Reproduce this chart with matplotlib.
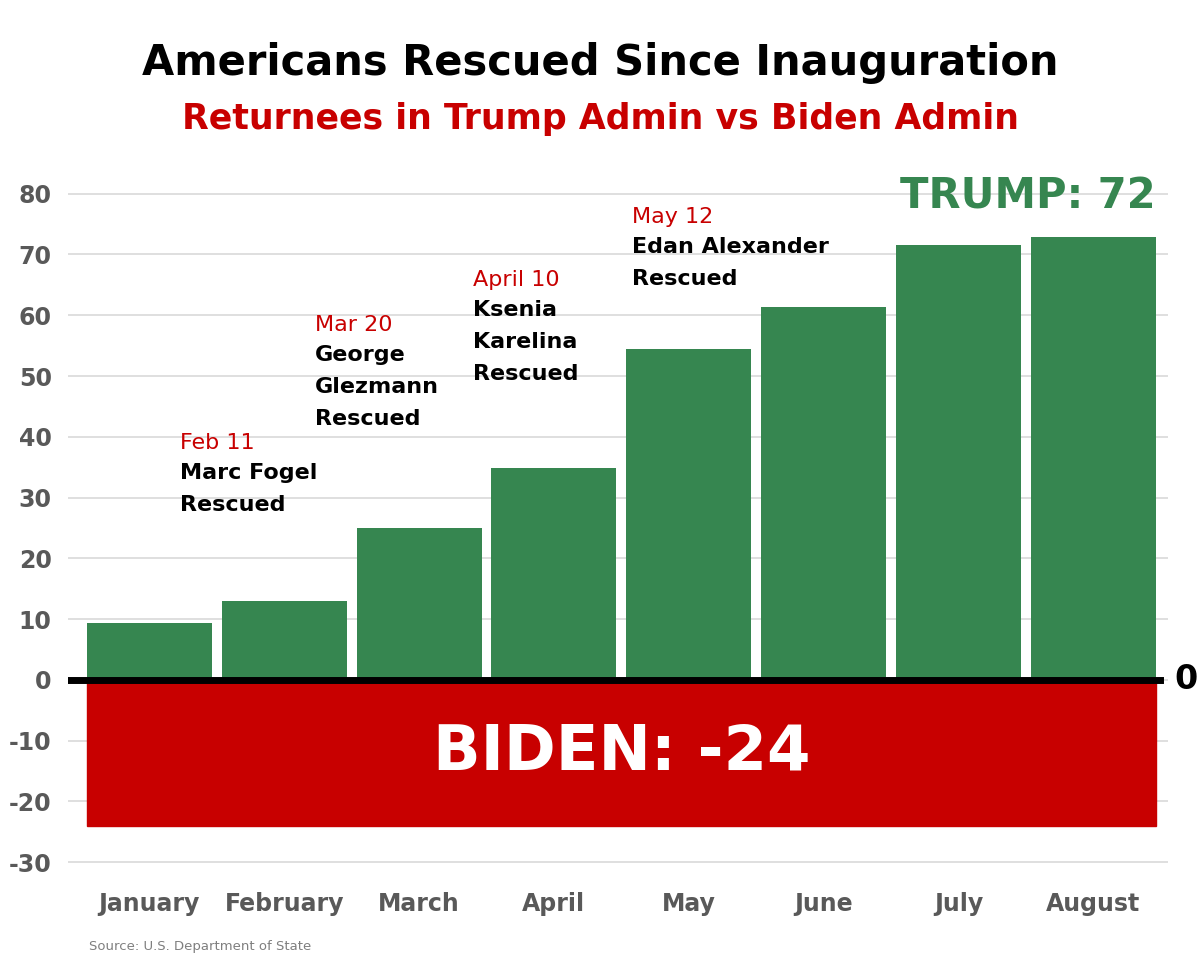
import matplotlib.pyplot as plt
from matplotlib.patches import Rectangle

months = ["January", "February", "March", "April", "May", "June", "July", "August"]
trump_totals = [9.3, 13, 25, 34.8, 54.5, 61.3, 71.5, 72.8]
biden_total = -24
y_ticks = [-30, -20, -10, 0, 10, 20, 30, 40, 50, 60, 70, 80]

# (bar index, y, date, name)
events = [
    (1, 39, "Feb 11", "Marc Fogel\nRescued"),
    (2, 58.4, "Mar 20", "George\nGlezmann\nRescued"),
    (3, 65.8, "April 10", "Ksenia\nKarelina\nRescued"),
    (4, 76.2, "May 12", "Edan Alexander\nRescued"),
]
label_shift = [-0.77, -0.77, -0.6, -0.42]

green = "#368650"
red = "#c80000"

fig = plt.figure(figsize=(12, 9.55), dpi=100)
ax = fig.add_axes([0.057, 0.078, 0.916, 0.751])
x = range(len(months))
ax.bar(x, trump_totals, width=0.926, color=green, zorder=2)
ax.add_patch(Rectangle((-0.463, biden_total), 7.926, -biden_total, color=red, zorder=2))
ax.axhline(0, xmin=0.0, xmax=0.993, color="black", lw=5, zorder=3)
ax.set_xlim(-0.6, 7.55)
ax.set_ylim(-33, 85)
ax.set_yticks(y_ticks)
ax.set_yticklabels([str(v) for v in y_ticks])
ax.set_xticks(list(x))
ax.set_xticklabels(months)
ax.tick_params(length=0, labelsize=17, labelcolor="#595959", pad=12)
ax.tick_params(axis="x", pad=8)
for lab in ax.get_xticklabels() + ax.get_yticklabels():
    lab.set_fontweight("bold")
ax.grid(axis="y", color="#d9d9d9", lw=1.2, zorder=0)
for s in ax.spines.values():
    s.set_visible(False)

ax.text(3.5, biden_total / 2, "BIDEN: -24", color="white", fontsize=45,
        fontweight="bold", ha="center", va="center", zorder=4)
ax.text(7.463, 79.5, "TRUMP: 72", color=green, fontsize=30,
        fontweight="bold", ha="right", va="center", zorder=4)
ax.text(7.6, 0, "0", color="black", fontsize=24, fontweight="bold",
        ha="left", va="center", clip_on=False)

for (i, y, date, name), dx in zip(events, label_shift):
    ax.text(i + dx, y, date, color=red, fontsize=16, va="center", ha="left")
    ax.text(i + dx, y - 3.3, name, color="black", fontsize=16,
            fontweight="bold", va="top", ha="left", linespacing=1.75)

fig.text(0.5, 0.934, "Americans Rescued Since Inauguration", ha="center",
         va="center", fontsize=30, fontweight="heavy", color="black")
fig.text(0.5, 0.875, "Returnees in Trump Admin vs Biden Admin", ha="center",
         va="center", fontsize=25, fontweight="bold", color=red)
fig.text(0.074, 0.005, "Source: U.S. Department of State", fontsize=9.5,
         color="#7f7f7f")

fig.savefig("out.png", dpi=100)
